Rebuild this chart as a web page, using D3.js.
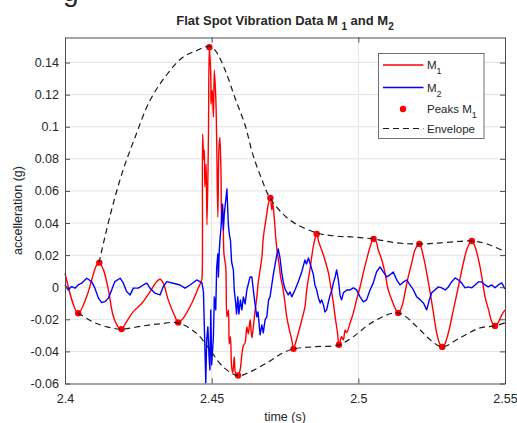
<!DOCTYPE html>
<html>
<head>
<meta charset="utf-8">
<script src="https://cdn.jsdelivr.net/npm/d3@7"></script>
<style>
body { margin: 0; background: #fff; }
text { font-family: "Liberation Sans", Arial, sans-serif; fill: #262626; }
</style>
</head>
<body>
<div id="chart"></div>
<script>
// M1 signal (time in s, accel in g)
const m1Time = [2.4000, 2.4045, 2.4074, 2.4091, 2.4108, 2.4117, 2.4131, 2.4148, 2.4165, 2.4182,
  2.4193, 2.4210, 2.4233, 2.4262, 2.4290, 2.4313, 2.4324, 2.4335, 2.4352, 2.4375,
  2.4386, 2.4403, 2.4432, 2.4454, 2.4466, 2.4468, 2.4469, 2.4473, 2.4475, 2.4477,
  2.4481, 2.4484, 2.4489, 2.4492, 2.4497, 2.4498, 2.4502, 2.4506, 2.4509, 2.4514,
  2.4517, 2.4521, 2.4525, 2.4528, 2.4532, 2.4534, 2.4538, 2.4542, 2.4548, 2.4552,
  2.4557, 2.4560, 2.4564, 2.4568, 2.4572, 2.4577, 2.4582, 2.4590, 2.4597, 2.4602,
  2.4608, 2.4614, 2.4620, 2.4625, 2.4631, 2.4637, 2.4642, 2.4648, 2.4654, 2.4659,
  2.4665, 2.4671, 2.4676, 2.4682, 2.4688, 2.4693, 2.4700, 2.4705, 2.4708, 2.4714,
  2.4718, 2.4724, 2.4731, 2.4735, 2.4742, 2.4750, 2.4756, 2.4765, 2.4773, 2.4779,
  2.4784, 2.4792, 2.4801, 2.4810, 2.4818, 2.4824, 2.4829, 2.4835, 2.4841, 2.4849,
  2.4858, 2.4865, 2.4875, 2.4886, 2.4898, 2.4906, 2.4915, 2.4921, 2.4929, 2.4934,
  2.4943, 2.4949, 2.4955, 2.4960, 2.4972, 2.4983, 2.4994, 2.5006, 2.5017, 2.5028,
  2.5040, 2.5052, 2.5060, 2.5068, 2.5080, 2.5091, 2.5102, 2.5114, 2.5125, 2.5136,
  2.5148, 2.5159, 2.5170, 2.5182, 2.5193, 2.5208, 2.5222, 2.5233, 2.5245, 2.5256,
  2.5267, 2.5279, 2.5286, 2.5292, 2.5307, 2.5324, 2.5341, 2.5358, 2.5373, 2.5387,
  2.5398, 2.5410, 2.5421, 2.5432, 2.5444, 2.5455, 2.5466, 2.5478, 2.5489, 2.5500];
const m1Value = [0.0087, -0.0162, -0.0058, 0.0045, 0.0139, 0.0153, 0.0108, -0.0017, -0.0183, -0.0249,
  -0.0261, -0.0214, -0.0152, -0.0100, -0.0027, 0.0035, 0.0050, 0.0025, -0.0079, -0.0183,
  -0.0220, -0.0193, -0.0100, -0.0006, 0.0045, 0.0095, 0.0954, 0.0792, 0.0854, 0.0624,
  0.0767, 0.0388, 0.0935, 0.1495, 0.1309, 0.1141, 0.1228, 0.1060, 0.1352, 0.1184,
  0.0935, 0.0437, 0.0873, 0.0935, 0.0686, 0.0394, 0.0518, 0.0207, 0.0126, -0.0185,
  -0.0141, -0.0353, -0.0309, -0.0496, -0.0533, -0.0434, -0.0540, -0.0550, -0.0515, -0.0434,
  -0.0365, -0.0347, -0.0247, -0.0291, -0.0203, -0.0316, -0.0247, -0.0147, -0.0060, 0.0033,
  0.0108, 0.0182, 0.0307, 0.0388, 0.0456, 0.0518, 0.0556, 0.0481, 0.0525, 0.0419,
  0.0319, 0.0213, 0.0126, 0.0064, 0.0002, -0.0098, -0.0185, -0.0266, -0.0328, -0.0384,
  -0.0359, -0.0309, -0.0247, -0.0185, -0.0123, -0.0017, 0.0045, 0.0108, 0.0189, 0.0276,
  0.0332, 0.0282, 0.0232, 0.0170, 0.0089, 0.0002, -0.0098, -0.0185, -0.0284, -0.0359,
  -0.0309, -0.0328, -0.0266, -0.0284, -0.0222, -0.0160, -0.0079, 0.0002, 0.0089, 0.0170,
  0.0251, 0.0301, 0.0288, 0.0232, 0.0170, 0.0089, -0.0017, -0.0079, -0.0129, -0.0160,
  -0.0123, -0.0035, 0.0064, 0.0151, 0.0232, 0.0269, 0.0189, 0.0089, -0.0035, -0.0160,
  -0.0284, -0.0359, -0.0372, -0.0365, -0.0284, -0.0141, 0.0002, 0.0151, 0.0251, 0.0288,
  0.0251, 0.0170, 0.0064, -0.0060, -0.0141, -0.0216, -0.0241, -0.0216, -0.0172, -0.0141];

// M2 signal
const m2Time = [2.4000, 2.4011, 2.4023, 2.4034, 2.4045, 2.4057, 2.4074, 2.4091, 2.4102, 2.4114,
  2.4125, 2.4136, 2.4148, 2.4159, 2.4170, 2.4188, 2.4199, 2.4210, 2.4222, 2.4233,
  2.4250, 2.4267, 2.4279, 2.4290, 2.4307, 2.4324, 2.4335, 2.4347, 2.4369, 2.4392,
  2.4409, 2.4426, 2.4449, 2.4460, 2.4467, 2.4472, 2.4475, 2.4480, 2.4483, 2.4487,
  2.4491, 2.4494, 2.4497, 2.4500, 2.4506, 2.4509, 2.4514, 2.4517, 2.4521, 2.4523,
  2.4526, 2.4529, 2.4532, 2.4536, 2.4540, 2.4543, 2.4548, 2.4552, 2.4557, 2.4560,
  2.4564, 2.4568, 2.4574, 2.4577, 2.4582, 2.4585, 2.4589, 2.4593, 2.4598, 2.4603,
  2.4608, 2.4614, 2.4620, 2.4625, 2.4631, 2.4637, 2.4642, 2.4646, 2.4654, 2.4658,
  2.4665, 2.4671, 2.4676, 2.4682, 2.4688, 2.4694, 2.4699, 2.4705, 2.4710, 2.4716,
  2.4722, 2.4727, 2.4733, 2.4739, 2.4744, 2.4750, 2.4761, 2.4767, 2.4773, 2.4784,
  2.4795, 2.4807, 2.4818, 2.4823, 2.4830, 2.4835, 2.4841, 2.4847, 2.4852, 2.4858,
  2.4864, 2.4870, 2.4875, 2.4881, 2.4886, 2.4892, 2.4898, 2.4903, 2.4909, 2.4915,
  2.4921, 2.4926, 2.4932, 2.4938, 2.4943, 2.4949, 2.4961, 2.4972, 2.4983, 2.4994,
  2.5006, 2.5017, 2.5028, 2.5040, 2.5051, 2.5062, 2.5074, 2.5085, 2.5097, 2.5108,
  2.5119, 2.5131, 2.5142, 2.5154, 2.5165, 2.5176, 2.5188, 2.5199, 2.5211, 2.5222,
  2.5233, 2.5242, 2.5250, 2.5261, 2.5273, 2.5284, 2.5296, 2.5307, 2.5318, 2.5330,
  2.5341, 2.5352, 2.5364, 2.5375, 2.5387, 2.5398, 2.5409, 2.5421, 2.5432, 2.5443,
  2.5455, 2.5466, 2.5477, 2.5489, 2.5500];
const m2Value = [0.0014, -0.0017, 0.0004, -0.0006, 0.0014, 0.0025, 0.0056, 0.0035, -0.0006, -0.0068,
  -0.0096, -0.0090, -0.0068, -0.0017, 0.0035, 0.0056, 0.0025, -0.0027, -0.0048, -0.0006,
  -0.0006, 0.0014, 0.0025, -0.0006, -0.0037, -0.0048, 0.0004, 0.0035, 0.0025, 0.0014,
  -0.0006, 0.0014, 0.0045, 0.0035, 0.0027, -0.0029, -0.0247, -0.0595, -0.0328, -0.0247,
  -0.0434, -0.0515, -0.0141, -0.0483, -0.0309, -0.0060, -0.0141, 0.0120, 0.0207, 0.0064,
  0.0232, 0.0313, 0.0375, 0.0518, 0.0357, 0.0456, 0.0543, 0.0612, 0.0388, 0.0332,
  0.0294, 0.0157, 0.0108, -0.0017, -0.0104, -0.0166, -0.0060, -0.0166, -0.0079, -0.0141,
  -0.0060, -0.0104, -0.0017, 0.0021, 0.0064, 0.0064, -0.0017, -0.0079, -0.0185, -0.0154,
  -0.0297, -0.0235, -0.0284, -0.0203, -0.0185, -0.0079, -0.0060, 0.0014, 0.0077, 0.0139,
  0.0201, 0.0238, 0.0182, 0.0089, 0.0033, -0.0011, -0.0048, -0.0029, -0.0060, -0.0017,
  0.0033, 0.0095, 0.0170, 0.0145, 0.0182, 0.0151, 0.0114, 0.0077, 0.0014, -0.0017,
  -0.0067, -0.0098, -0.0079, -0.0110, -0.0154, -0.0141, -0.0091, -0.0054, -0.0023, 0.0027,
  0.0064, 0.0108, 0.0045, -0.0054, -0.0079, -0.0035, -0.0017, -0.0017, -0.0004, -0.0017,
  -0.0060, -0.0091, -0.0079, -0.0017, 0.0027, 0.0095, 0.0126, 0.0095, 0.0064, 0.0077,
  0.0095, 0.0045, 0.0014, 0.0033, 0.0045, 0.0014, -0.0017, -0.0060, -0.0079, -0.0098,
  -0.0141, -0.0079, -0.0035, -0.0017, 0.0002, -0.0004, -0.0017, 0.0002, 0.0033, 0.0058,
  0.0045, 0.0027, -0.0004, 0.0002, -0.0004, 0.0014, 0.0033, 0.0033, 0.0014, 0.0002,
  0.0014, -0.0004, 0.0014, 0.0027, -0.0011];

// peaks of M1
const peakTime = [2.4045, 2.4117, 2.4193, 2.4386, 2.4492, 2.4590, 2.4700, 2.4779,
  2.4858, 2.4934, 2.5052, 2.5136, 2.5208, 2.5286, 2.5387, 2.5466];
const peakValue = [-0.0162, 0.0153, -0.0261, -0.0220, 0.1495, -0.0550, 0.0556, -0.0384,
  0.0332, -0.0359, 0.0301, -0.0160, 0.0269, -0.0372, 0.0288, -0.0241];

// envelope, upper and lower
const envUpperTime = [2.4116, 2.4136, 2.4164, 2.4198, 2.4239, 2.4290, 2.4348, 2.4402, 2.4450, 2.4491,
  2.4512, 2.4546, 2.4580, 2.4614, 2.4641, 2.4672, 2.4699, 2.4767, 2.4859, 2.4921,
  2.4982, 2.5054, 2.5132, 2.5207, 2.5279, 2.5388, 2.5439, 2.5500];
const envUpperValue = [0.0151, 0.0313, 0.0518, 0.0730, 0.0935, 0.1165, 0.1327, 0.1433, 0.1476, 0.1501,
  0.1476, 0.1352, 0.1177, 0.1009, 0.0823, 0.0667, 0.0555, 0.0418, 0.0338, 0.0319,
  0.0313, 0.0300, 0.0276, 0.0269, 0.0276, 0.0288, 0.0269, 0.0222];
const envLowerTime = [2.4044, 2.4095, 2.4143, 2.4193, 2.4266, 2.4324, 2.4385, 2.4450, 2.4494, 2.4539,
  2.4590, 2.4631, 2.4689, 2.4743, 2.4781, 2.4849, 2.4934, 2.4982, 2.5050, 2.5136,
  2.5200, 2.5245, 2.5286, 2.5347, 2.5415, 2.5466, 2.5500];
const envLowerValue = [-0.0160, -0.0216, -0.0247, -0.0261, -0.0241, -0.0228, -0.0222, -0.0290, -0.0390, -0.0496,
  -0.0552, -0.0527, -0.0471, -0.0409, -0.0384, -0.0371, -0.0359, -0.0309, -0.0216, -0.0160,
  -0.0247, -0.0328, -0.0371, -0.0315, -0.0253, -0.0241, -0.0222];

const xTicks = [2.4, 2.45, 2.5, 2.55];
const xTickLabels = ['2.4', '2.45', '2.5', '2.55'];
const yTicks = [-0.06, -0.04, -0.02, 0, 0.02, 0.04, 0.06, 0.08, 0.1, 0.12, 0.14];
const yTickLabels = ['-0.06', '-0.04', '-0.02', '0', '0.02', '0.04', '0.06', '0.08', '0.1', '0.12', '0.14'];

const width = 517, height = 423;
const plot = { left: 65, right: 505, top: 37.5, bottom: 383.5 };
const axisColor = '#4d4d4d';
const gridColor = '#e4e4e4';

const svg = d3.select('#chart').append('svg')
  .attr('width', width)
  .attr('height', height);

const x = d3.scaleLinear().domain([2.4, 2.55]).range([plot.left, plot.right]);
const y = d3.scaleLinear().domain([-0.06, 0.1556]).range([plot.bottom, plot.top]);

// cropped glyph of a heading above the figure (cut off in the reference too)
svg.append('text')
  .attr('x', 63).attr('y', 1)
  .style('font-size', '28px')
  .text('g');

// grid
svg.append('g')
  .selectAll('line.gx')
  .data(xTicks.slice(1, -1))
  .enter().append('line')
  .attr('x1', d => x(d)).attr('x2', d => x(d))
  .attr('y1', plot.top).attr('y2', plot.bottom)
  .attr('stroke', gridColor);
svg.append('g')
  .selectAll('line.gy')
  .data(yTicks.slice(1))
  .enter().append('line')
  .attr('x1', plot.left).attr('x2', plot.right)
  .attr('y1', d => y(d)).attr('y2', d => y(d))
  .attr('stroke', gridColor);

const smoothLine = d3.line().x(d => x(d[0])).y(d => y(d[1])).curve(d3.curveCatmullRom.alpha(0.5));
const line = d3.line().x(d => x(d[0])).y(d => y(d[1]));

svg.append('path')
  .datum(d3.zip(m1Time, m1Value))
  .attr('d', smoothLine)
  .attr('fill', 'none')
  .attr('stroke', '#ff0000')
  .attr('stroke-width', 1.4)
  .attr('stroke-linejoin', 'round');

svg.append('path')
  .datum(d3.zip(m2Time, m2Value))
  .attr('d', line)
  .attr('fill', 'none')
  .attr('stroke', '#0000ff')
  .attr('stroke-width', 1.4)
  .attr('stroke-linejoin', 'round');

svg.append('g')
  .selectAll('circle')
  .data(d3.zip(peakTime, peakValue))
  .enter().append('circle')
  .attr('cx', d => x(d[0]))
  .attr('cy', d => y(d[1]))
  .attr('r', 3.2)
  .attr('fill', '#ff0000');

[d3.zip(envUpperTime, envUpperValue), d3.zip(envLowerTime, envLowerValue)].forEach(env => {
  svg.append('path')
    .datum(env)
    .attr('d', smoothLine)
    .attr('fill', 'none')
    .attr('stroke', '#1a1a1a')
    .attr('stroke-width', 1.2)
    .attr('stroke-dasharray', '6,4');
});

// axes, ticks pointing inward on all four sides
function styleAxis(g) {
  g.selectAll('path, line').attr('stroke', axisColor);
  g.selectAll('text').attr('fill', '#262626').style('font-size', '12.5px')
    .style('font-family', '"Liberation Sans", Arial, sans-serif');
}

svg.append('g')
  .attr('transform', `translate(0,${plot.bottom})`)
  .call(d3.axisBottom(x).tickValues(xTicks).tickFormat((d, i) => xTickLabels[i])
    .tickSizeInner(-5).tickSizeOuter(0).tickPadding(11))
  .call(styleAxis);
svg.append('g')
  .attr('transform', `translate(0,${plot.top})`)
  .call(d3.axisTop(x).tickValues(xTicks).tickFormat('').tickSizeInner(-5).tickSizeOuter(0))
  .call(styleAxis);
svg.append('g')
  .attr('transform', `translate(${plot.left},0)`)
  .call(d3.axisLeft(y).tickValues(yTicks).tickFormat((d, i) => yTickLabels[i])
    .tickSizeInner(-5).tickSizeOuter(0).tickPadding(6))
  .call(styleAxis);
svg.append('g')
  .attr('transform', `translate(${plot.right},0)`)
  .call(d3.axisRight(y).tickValues(yTicks).tickFormat('').tickSizeInner(-5).tickSizeOuter(0))
  .call(styleAxis);

// axis labels
svg.append('text')
  .attr('x', (plot.left + plot.right) / 2).attr('y', 421)
  .attr('text-anchor', 'middle')
  .style('font-size', '12.5px')
  .text('time (s)');
svg.append('text')
  .attr('transform', `translate(22,${(plot.top + plot.bottom) / 2}) rotate(-90)`)
  .attr('text-anchor', 'middle')
  .style('font-size', '12.5px')
  .text('accelleration (g)');

// title with subscripts
const title = svg.append('text')
  .attr('x', (plot.left + plot.right) / 2).attr('y', 25)
  .attr('text-anchor', 'middle')
  .style('font-size', '13px')
  .style('font-weight', 'bold');
title.append('tspan').text('Flat Spot Vibration Data M ');
title.append('tspan').attr('dy', 5).style('font-size', '10px').text('1');
title.append('tspan').attr('dy', -5).text(' and M');
title.append('tspan').attr('dy', 5).style('font-size', '10px').text('2');

// legend
const legend = svg.append('g').attr('transform', 'translate(378.5,53.5)');
legend.append('rect')
  .attr('width', 105.5).attr('height', 85)
  .attr('fill', '#fff')
  .attr('stroke', axisColor)
  .attr('stroke-width', 0.8);

const legendItems = [
  { label: 'M', sub: '1', type: 'line', color: '#ff0000', dash: null },
  { label: 'M', sub: '2', type: 'line', color: '#0000ff', dash: null },
  { label: 'Peaks M', sub: '1', type: 'dot', color: '#ff0000', dash: null },
  { label: 'Envelope', sub: '', type: 'line', color: '#1a1a1a', dash: '6,4' }
];
const legendRows = [11.5, 34, 55.5, 75];

legendItems.forEach((item, i) => {
  const ly = legendRows[i];
  if (item.type === 'line') {
    legend.append('line')
      .attr('x1', 4.5).attr('x2', 45)
      .attr('y1', ly).attr('y2', ly)
      .attr('stroke', item.color)
      .attr('stroke-width', item.dash ? 1.2 : 1.4)
      .attr('stroke-dasharray', item.dash);
  } else {
    legend.append('circle')
      .attr('cx', 24.5).attr('cy', ly)
      .attr('r', 3.2)
      .attr('fill', item.color);
  }
  const t = legend.append('text')
    .attr('x', 48.5).attr('y', ly + 4)
    .style('font-size', '11.5px');
  t.append('tspan').text(item.label);
  if (item.sub) {
    t.append('tspan').attr('dy', 5).style('font-size', '9px').text(item.sub);
  }
});
</script>
</body>
</html>
